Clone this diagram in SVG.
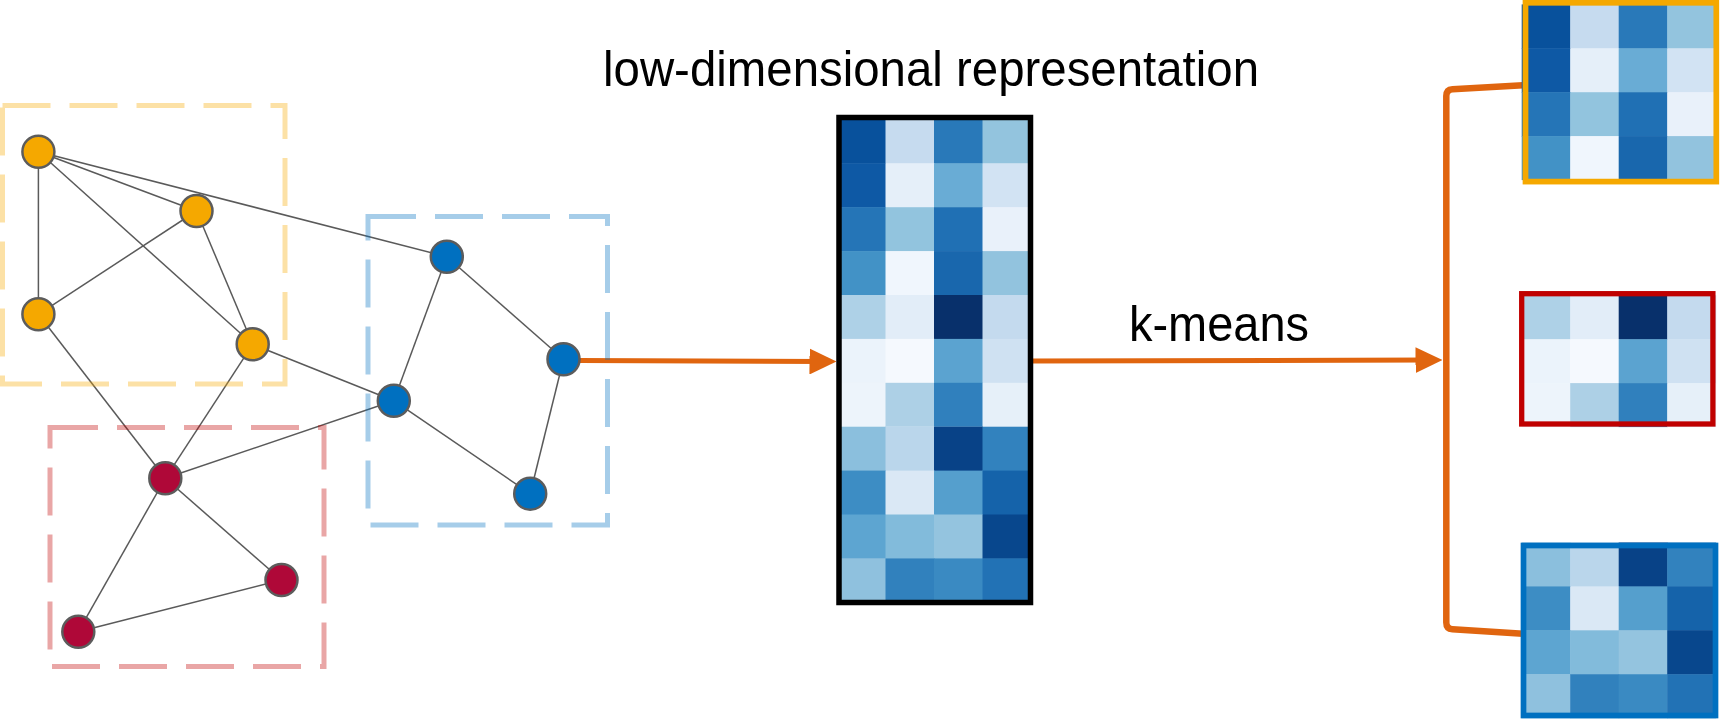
<svg xmlns="http://www.w3.org/2000/svg" xmlns:xlink="http://www.w3.org/1999/xlink" width="1721" height="721" viewBox="0 0 1721 721">
<style>
.edge{stroke:#5a5a5a;stroke-width:1.5;fill:none}
.node{stroke:#5c5c5c;stroke-width:2.5}
.org{fill:#F5A800}
.blu{fill:#0070C0}
.red{fill:#AF0838}
.grp{fill:none;stroke-width:5;stroke-dasharray:48 19;stroke-opacity:0.35}
.flow{stroke:#E0650F;stroke-width:5;fill:none}
.lbl{font-family:"Liberation Sans",Arial,sans-serif;font-size:49.5px;fill:#000}
</style>
<defs>
<marker id="ah" markerUnits="userSpaceOnUse" markerWidth="27" markerHeight="26" viewBox="0 0 27 26" refX="12" refY="13" orient="auto">
<path d="M0,0 L27,13 L0,26 z" fill="#E0650F"/>
</marker>
<g id="blk-a">
<rect x="0" y="0" width="49" height="44.4" fill="#08519C"/><rect x="48.5" y="0" width="49" height="44.4" fill="#C6DBEF"/><rect x="97" y="0" width="49" height="44.4" fill="#2979B9"/><rect x="145.5" y="0" width="49" height="44.4" fill="#93C4DE"/>
<rect x="0" y="43.9" width="49" height="44.4" fill="#0E59A5"/><rect x="48.5" y="43.9" width="49" height="44.4" fill="#E5EFF9"/><rect x="97" y="43.9" width="49" height="44.4" fill="#69ACD5"/><rect x="145.5" y="43.9" width="49" height="44.4" fill="#D2E3F3"/>
<rect x="0" y="87.8" width="49" height="44.4" fill="#2575B7"/><rect x="48.5" y="87.8" width="49" height="44.4" fill="#92C4DE"/><rect x="97" y="87.8" width="49" height="44.4" fill="#2070B4"/><rect x="145.5" y="87.8" width="49" height="44.4" fill="#E9F1FA"/>
<rect x="0" y="131.7" width="49" height="44" fill="#4292C6"/><rect x="48.5" y="131.7" width="49" height="44" fill="#F0F6FD"/><rect x="97" y="131.7" width="49" height="44" fill="#1967AD"/><rect x="145.5" y="131.7" width="49" height="44" fill="#92C3DE"/>
</g>
<g id="blk-b">
<rect x="0" y="0" width="49" height="44.4" fill="#AED1E7"/><rect x="48.5" y="0" width="49" height="44.4" fill="#E2EDF8"/><rect x="97" y="0" width="49" height="44.4" fill="#08306B"/><rect x="145.5" y="0" width="49" height="44.4" fill="#C4DAEE"/>
<rect x="0" y="43.9" width="49" height="44.4" fill="#EBF3FB"/><rect x="48.5" y="43.9" width="49" height="44.4" fill="#F5F9FE"/><rect x="97" y="43.9" width="49" height="44.4" fill="#5BA3D0"/><rect x="145.5" y="43.9" width="49" height="44.4" fill="#CFE1F2"/>
<rect x="0" y="87.8" width="49" height="44" fill="#EDF4FB"/><rect x="48.5" y="87.8" width="49" height="44" fill="#ADD0E6"/><rect x="97" y="87.8" width="49" height="44" fill="#3080BD"/><rect x="145.5" y="87.8" width="49" height="44" fill="#E6F0F9"/>
</g>
<g id="blk-c">
<rect x="0" y="0" width="49" height="44.4" fill="#8BBFDD"/><rect x="48.5" y="0" width="49" height="44.4" fill="#BAD6EB"/><rect x="97" y="0" width="49" height="44.4" fill="#084287"/><rect x="145.5" y="0" width="49" height="44.4" fill="#3282BE"/>
<rect x="0" y="43.9" width="49" height="44.4" fill="#3D8DC4"/><rect x="48.5" y="43.9" width="49" height="44.4" fill="#DAE8F5"/><rect x="97" y="43.9" width="49" height="44.4" fill="#559FCD"/><rect x="145.5" y="43.9" width="49" height="44.4" fill="#1563AA"/>
<rect x="0" y="87.8" width="49" height="44.4" fill="#5DA5D1"/><rect x="48.5" y="87.8" width="49" height="44.4" fill="#82BBDB"/><rect x="97" y="87.8" width="49" height="44.4" fill="#94C4DF"/><rect x="145.5" y="87.8" width="49" height="44.4" fill="#08478D"/>
<rect x="0" y="131.7" width="49" height="44" fill="#8FC1DE"/><rect x="48.5" y="131.7" width="49" height="44" fill="#3181BD"/><rect x="97" y="131.7" width="49" height="44" fill="#3A8AC2"/><rect x="145.5" y="131.7" width="49" height="44" fill="#2272B5"/>
</g>
</defs>
<rect width="1721" height="721" fill="#fff"/>

<g id="connectors">
<line class="edge" x1="38.4" y1="151.7" x2="196.5" y2="211"/>
<line class="edge" x1="38.4" y1="151.7" x2="38.4" y2="314.3"/>
<line class="edge" x1="38.4" y1="151.7" x2="252.7" y2="344.3"/>
<line class="edge" x1="38.4" y1="151.7" x2="446.8" y2="256.7"/>
<line class="edge" x1="196.5" y1="211" x2="38.4" y2="314.3"/>
<line class="edge" x1="196.5" y1="211" x2="252.7" y2="344.3"/>
<line class="edge" x1="38.4" y1="314.3" x2="165.3" y2="478.3"/>
<line class="edge" x1="252.7" y1="344.3" x2="165.3" y2="478.3"/>
<line class="edge" x1="252.7" y1="344.3" x2="393.8" y2="400.7"/>
<line class="edge" x1="446.8" y1="256.7" x2="393.8" y2="400.7"/>
<line class="edge" x1="446.8" y1="256.7" x2="563.5" y2="359.3"/>
<line class="edge" x1="563.5" y1="359.3" x2="530.2" y2="493.7"/>
<line class="edge" x1="393.8" y1="400.7" x2="530.2" y2="493.7"/>
<line class="edge" x1="393.8" y1="400.7" x2="165.3" y2="478.3"/>
<line class="edge" x1="165.3" y1="478.3" x2="281.5" y2="580"/>
<line class="edge" x1="165.3" y1="478.3" x2="78.3" y2="631.7"/>
<line class="edge" x1="281.5" y1="580" x2="78.3" y2="631.7"/>
<path class="flow" d="M579.5,360.6 L821.5,361.5" marker-end="url(#ah)"/>
<path class="flow" d="M1033,361 L1427.5,360.1" marker-end="url(#ah)"/>
<path class="flow" d="M1523,85.3 L1452.5,89.2 Q1446.3,89.6 1446.3,96 L1446.3,622.5 Q1446.3,628.8 1452.5,629.3 L1523,633.7" style="stroke-width:6.5"/>
</g>

<g id="cluster-boxes">
<rect class="grp" x="2.5" y="105.5" width="282.5" height="278.5" stroke="#F5A800"/>
<rect class="grp" x="368" y="216.5" width="239.5" height="308.5" stroke="#0070C0"/>
<rect class="grp" x="50" y="427.5" width="274" height="239" stroke="#C00000"/>
</g>

<g id="node-a"><circle class="node org" cx="38.4" cy="151.7" r="16"/></g>
<g id="node-b"><circle class="node org" cx="196.5" cy="211" r="16"/></g>
<g id="node-c"><circle class="node org" cx="38.4" cy="314.3" r="16"/></g>
<g id="node-d"><circle class="node org" cx="252.7" cy="344.3" r="16"/></g>
<g id="node-e"><circle class="node blu" cx="446.8" cy="256.7" r="16"/></g>
<g id="node-f"><circle class="node blu" cx="563.5" cy="359.3" r="16"/></g>
<g id="node-g"><circle class="node blu" cx="393.8" cy="400.7" r="16"/></g>
<g id="node-h"><circle class="node blu" cx="530.2" cy="493.7" r="16"/></g>
<g id="node-i"><circle class="node red" cx="165.3" cy="478.3" r="16"/></g>
<g id="node-j"><circle class="node red" cx="281.5" cy="580" r="16"/></g>
<g id="node-k"><circle class="node red" cx="78.3" cy="631.7" r="16"/></g>

<g id="matrix">
<use xlink:href="#blk-a" href="#blk-a" x="837" y="119.4"/>
<use xlink:href="#blk-b" href="#blk-b" x="837" y="295"/>
<use xlink:href="#blk-c" href="#blk-c" x="837" y="426.7"/>
<rect x="839" y="117.5" width="191.5" height="485" fill="none" stroke="#000" stroke-width="5.5"/>
<text class="lbl" x="603" y="85.5" textLength="656" lengthAdjust="spacingAndGlyphs">low-dimensional representation</text>
</g>

<g id="kmeans-label"><text class="lbl" x="1129" y="341" textLength="180" lengthAdjust="spacingAndGlyphs">k-means</text></g>

<g id="cluster-orange">
<use xlink:href="#blk-a" href="#blk-a" x="1521.7" y="4.4"/>
<rect x="1525.5" y="2.8" width="190.8" height="178.8" fill="none" stroke="#F5A800" stroke-width="5.7"/>
</g>
<g id="cluster-red">
<use xlink:href="#blk-b" href="#blk-b" x="1521.7" y="295.3"/>
<rect x="1521.7" y="293.7" width="191.2" height="130.3" fill="none" stroke="#C00000" stroke-width="5.3"/>
</g>
<g id="cluster-blue">
<use xlink:href="#blk-c" href="#blk-c" x="1521.7" y="542.5"/>
<rect x="1523.5" y="545.5" width="192" height="170" fill="none" stroke="#0070C0" stroke-width="5.7"/>
</g>
</svg>
